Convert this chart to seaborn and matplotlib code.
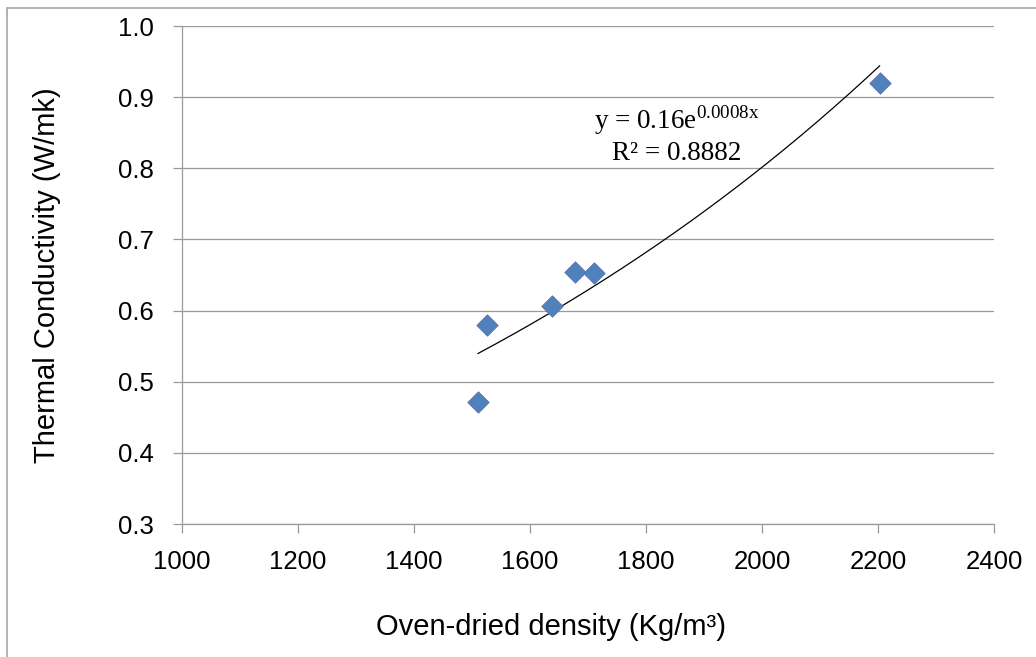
import numpy as np
import pandas as pd
import matplotlib
matplotlib.use('Agg')
import matplotlib.pyplot as plt
from matplotlib.lines import Line2D
import seaborn as sns

# Data
density = [1510, 1525, 1638, 1677, 1710, 2203]
conductivity = [0.472, 0.580, 0.606, 0.654, 0.653, 0.920]
x_ticks = [1000, 1200, 1400, 1600, 1800, 2000, 2200, 2400]
y_ticks = [0.3, 0.4, 0.5, 0.6, 0.7, 0.8, 0.9, 1.0]

df = pd.DataFrame({'density': density, 'conductivity': conductivity})

# Exponential trendline (least squares on log y, like Excel)
b, ln_a = np.polyfit(df['density'], np.log(df['conductivity']), 1)
trend_x = np.linspace(min(density), max(density), 200)
trend = pd.DataFrame({'density': trend_x, 'conductivity': np.exp(ln_a) * np.exp(b * trend_x)})

sns.set_style('white')
plt.rcParams['font.family'] = ['Liberation Sans', 'DejaVu Sans']
plt.rcParams['mathtext.fontset'] = 'custom'
plt.rcParams['mathtext.rm'] = 'Liberation Serif'
plt.rcParams['text.color'] = 'black'
plt.rcParams['axes.labelcolor'] = 'black'
plt.rcParams['xtick.labelcolor'] = 'black'
plt.rcParams['ytick.labelcolor'] = 'black'

fig = plt.figure(figsize=(10.36, 6.57), dpi=100)
ax = fig.add_axes([0.1757, 0.2024, 0.7838, 0.758])

ax.grid(axis='y', color='#9a9a9a', linewidth=0.9)
ax.set_axisbelow(True)

sns.lineplot(data=trend, x='density', y='conductivity', color='black', linewidth=0.9, ax=ax)
sns.scatterplot(data=df, x='density', y='conductivity', marker='D', s=118,
                color='#4F81BD', edgecolor='#5a6fa8', linewidth=0.6, ax=ax, zorder=3)

ax.set_xlim(1000, 2400)
ax.set_ylim(0.3, 1.0)
ax.set_xticks(x_ticks)
ax.set_yticks(y_ticks)
ax.set_xticklabels([str(t) for t in x_ticks])
ax.set_yticklabels([f'{t:.1f}' for t in y_ticks])

for side in ['top', 'right']:
    ax.spines[side].set_visible(False)
for side in ['left', 'bottom']:
    ax.spines[side].set_color('#9a9a9a')
    ax.spines[side].set_linewidth(0.9)

ax.tick_params(axis='x', direction='out', length=6.5, width=0.9, color='#9a9a9a',
               labelsize=18.5, labelcolor='black', pad=12, bottom=True)
ax.tick_params(axis='y', direction='out', length=6.5, width=0.9, color='#9a9a9a',
               labelsize=18.5, labelcolor='black', pad=14, left=True)

ax.set_xlabel('Oven-dried density (Kg/m³)', fontsize=21, color='black')
ax.set_ylabel('Thermal Conductivity (W/mk)', fontsize=21, color='black')
ax.xaxis.set_label_coords(0.454, -0.207)
ax.yaxis.set_label_coords(-0.166, 0.5)
ax.xaxis.label.set_va('center')
ax.yaxis.label.set_va('center')

ax.text(1853, 0.848, r'y = 0.16e$^{\mathrm{0.0008x}}$' + '\n' + 'R² = 0.8882',
        ha='center', va='center', fontsize=19.5, color='black',
        family=['Liberation Serif', 'DejaVu Serif'], linespacing=1.2)

# chart area border
fig.add_artist(Line2D([0.0068, 0.0068], [0.0, 0.9878], color='#a6a6a6', linewidth=1.2))
fig.add_artist(Line2D([0.0068, 1.0], [0.9878, 0.9878], color='#a6a6a6', linewidth=1.2))

fig.savefig('out.png', dpi=100)
